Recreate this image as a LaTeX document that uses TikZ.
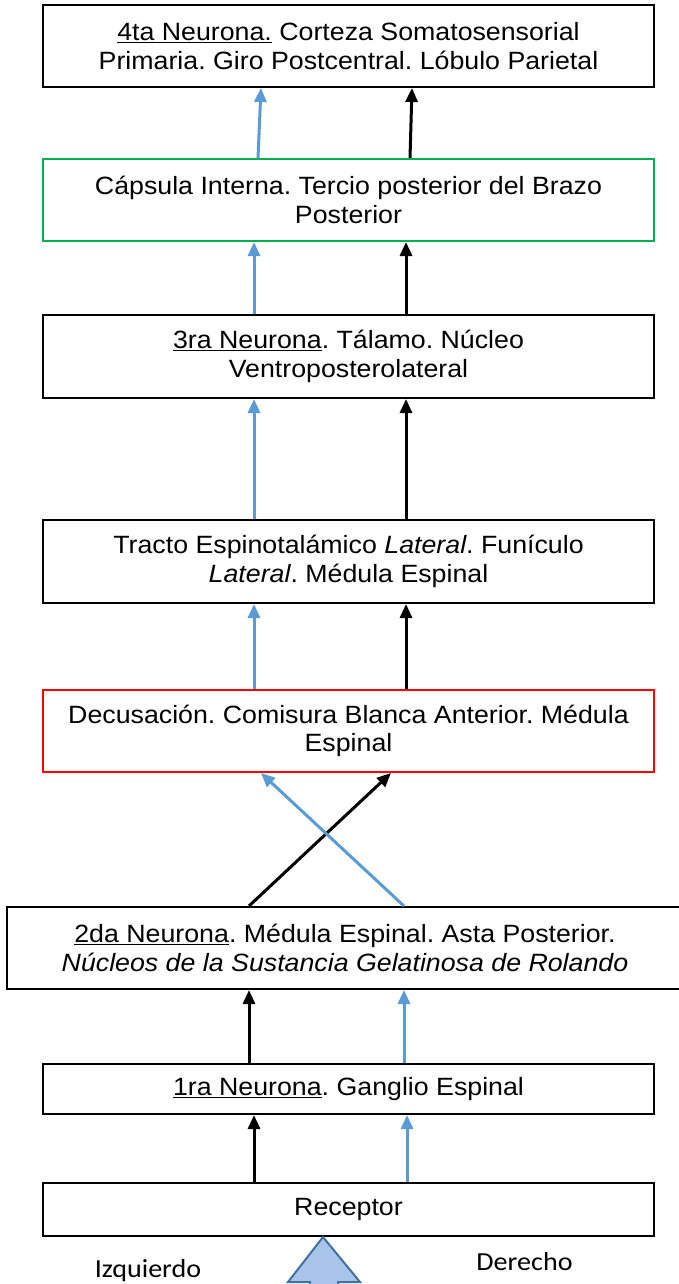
\documentclass[tikz,border=0pt]{standalone}
\usepackage{fontspec}
\setmainfont{Liberation Sans}[FakeStretch=1.07]
\newfontfamily\labelfont{Carlito}[FakeStretch=1.08]
\usetikzlibrary{arrows.meta}
\frenchspacing
\definecolor{axonblue}{HTML}{5B9BD5}
\definecolor{capsgreen}{HTML}{00B050}
\definecolor{decred}{HTML}{FF0000}
\definecolor{bigfill}{HTML}{A9C4EB}
\definecolor{bigdraw}{HTML}{41719C}
\tikzstyle{box} = [rectangle, draw=black, line width=2pt, minimum width=611pt, text centered, align=center, inner sep=0pt, font=\fontsize{25}{28.5}\selectfont]
\tikzstyle{blackarrow} = [line width=3pt, -{Triangle[length=14pt,width=12pt]}]
\tikzstyle{bluearrow} = [blackarrow, axonblue]
\tikzstyle{side} = [anchor=base, inner sep=0pt, font=\labelfont\fontsize{26}{30}\selectfont]

\begin{document}
\begin{tikzpicture}[x=1pt,y=-1pt]
\useasboundingbox (0,0) rectangle (679,1284);

% boxes, top to bottom
\node[box, minimum height=82pt] (cuarta) at (348.5,46)
 {\underline{4ta Neurona.} Corteza Somatosensorial\\Primaria. Giro Postcentral. L\'obulo Parietal};
\node[box, draw=capsgreen, minimum height=82pt] (capsula) at (348.5,200)
 {C\'apsula Interna. Tercio posterior del Brazo\\Posterior};
\node[box, minimum height=83pt] (tercera) at (348.5,356.5)
 {\underline{3ra Neurona}. T\'alamo. N\'ucleo\\Ventroposterolateral};
\node[box, minimum height=83pt] (tracto) at (348.5,561.5)
 {Tracto Espinotal\'amico \textit{Lateral}. Fun\'iculo\\\textit{Lateral}. M\'edula Espinal};
\node[box, draw=decred, minimum height=82pt] (decus) at (348.5,731)
 {Decusaci\'on. Comisura Blanca Anterior. M\'edula\\Espinal};
\node[box, minimum width=676pt, minimum height=82pt] (segunda) at (345,948)
 {\underline{2da Neurona}. M\'edula Espinal. Asta Posterior.\\\textit{N\'ucleos de la Sustancia Gelatinosa de Rolando}};
\node[box, minimum height=50pt] (primera) at (348.5,1089)
 {\underline{1ra Neurona}. Ganglio Espinal};
\node[box, minimum height=53pt] (rec) at (348.5,1209.5) {Receptor};

\node[side] (izq) at (148,1277) {Izquierdo};
\node[side] (der) at (524.5,1270) {Derecho};

% x positions of the arrows
\foreach \n/\x in {a/249, b/254, c/258, d/261, e/391, f/404, g/406, h/407, i/410, j/412}
  \coordinate (x\n) at (\x,0);

\draw[blackarrow] (rec.north -| xb) -- (primera.south -| xb);
\draw[bluearrow] (rec.north -| xh) -- (primera.south -| xh);
\draw[blackarrow] (primera.north -| xa) -- (segunda.south -| xa);
\draw[bluearrow] (primera.north -| xf) -- (segunda.south -| xf);
% decusacion
\draw[blackarrow] (segunda.north -| xa) -- (decus.south -| xe);
\draw[bluearrow] (segunda.north -| xf) -- (decus.south -| xd);
\draw[bluearrow] (decus.north -| xb) -- (tracto.south -| xb);
\draw[blackarrow] (decus.north -| xg) -- (tracto.south -| xg);
\draw[bluearrow] (tracto.north -| xb) -- (tercera.south -| xb);
\draw[blackarrow] (tracto.north -| xg) -- (tercera.south -| xg);
\draw[bluearrow] (tercera.north -| xb) -- (capsula.south -| xb);
\draw[blackarrow] (tercera.north -| xg) -- (capsula.south -| xg);
\draw[bluearrow] (capsula.north -| xc) -- (cuarta.south -| xd);
\draw[blackarrow] (capsula.north -| xi) -- (cuarta.south -| xj);

% big arrow under the receptor
\draw[line width=2pt, draw=bigdraw, fill=bigfill, line join=miter]
 (323,1237) -- (360,1282) -- (338,1282) -- (338,1300) -- (310,1300) -- (310,1282) -- (288,1282) -- cycle;
\end{tikzpicture}
\end{document}
